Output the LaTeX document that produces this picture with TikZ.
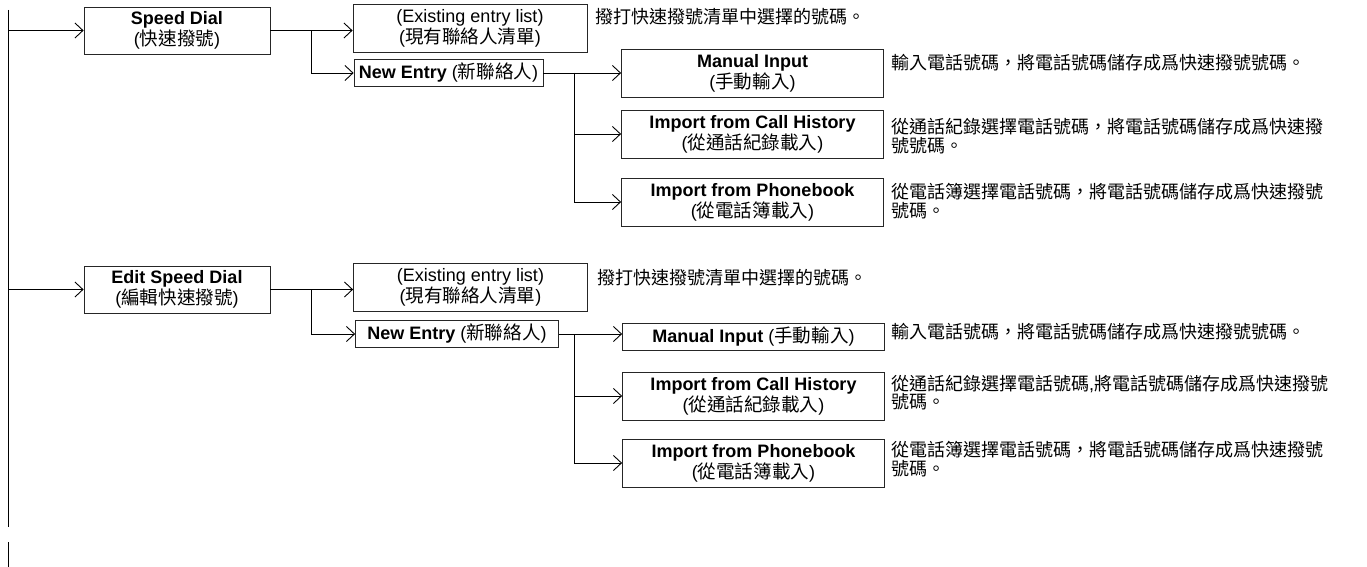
\documentclass[tikz,border=0pt]{standalone}
\usepackage{fontspec}
\setmainfont{Liberation Sans}
\newfontfamily\cjk[Scale=1.0]{Noto Sans CJK TC}
\newfontfamily\cjkbox[Scale=1.03]{Noto Sans CJK TC}
\usepackage{tikz}
\usetikzlibrary{arrows.meta,positioning}

\begin{document}
\begin{tikzpicture}[
    x=1pt, y=-1pt,
    box/.style={draw=black!85, line width=0.8pt, align=center, inner sep=1pt, font=\fontsize{18pt}{21pt}\selectfont},
    mainbox/.style={box, minimum width=186pt, minimum height=47pt},
    listbox/.style={box, minimum width=234pt, minimum height=48pt},
    entrybox/.style={box, minimum height=27pt},
    leafbox/.style={box, minimum width=262pt, minimum height=48pt},
    note/.style={anchor=west, align=left, inner sep=0pt, font=\fontsize{18pt}{18.5pt}\selectfont\cjk},
    arr/.style={-{Straight Barb[length=8pt,width=15pt]}, line width=0.9pt},
    trunk/.style={line width=0.9pt}
]
\useasboundingbox (0,0) rectangle (1367,567);

% left trunk
\coordinate (t0) at (8,10);
\coordinate (t1) at (8,527);
\coordinate (t2) at (8,542);
\coordinate (t3) at (8,567);

% speed dial
\node[mainbox] (speed) at (177,30.5) {\bfseries Speed Dial\\({\cjkbox 快速撥號})};
\node[listbox] (exist1) at (470,28) {(Existing entry list)\\({\cjkbox 現有聯絡人清單})};
\node[entrybox, minimum width=189pt] (new1) at (448.5,73) {\bfseries New Entry \mdseries({\cjkbox 新聯絡人})};
\node[leafbox] (manual1) at (752.5,73) {\bfseries Manual Input\\\mdseries({\cjkbox 手動輸入})};
\node[leafbox] (callh1) at (752.5,134) {\bfseries Import from Call History\\\mdseries({\cjkbox 從通話紀錄載入})};
\node[leafbox] (phone1) at (752.5,202) {\bfseries Import from Phonebook\\\mdseries({\cjkbox 從電話簿載入})};
\coordinate (j1) at (311,0);
\coordinate (j2) at (574,0);

\node[note] (dexist1) at (595,17) {撥打快速撥號清單中選擇的號碼。};
\node[note] (dmanual1) at (891,63) {輸入電話號碼，將電話號碼儲存成爲快速撥號號碼。};
\node[note] (dcallh1) at (891,136) {從通話紀錄選擇電話號碼，將電話號碼儲存成爲快速撥\\號號碼。};
\node[note] (dphone1) at (891,201) {從電話簿選擇電話號碼，將電話號碼儲存成爲快速撥號\\號碼。};

% edit speed dial
\node[mainbox] (edit) at (177,289.5) {\bfseries Edit Speed Dial\\({\cjkbox 編輯快速撥號})};
\node[listbox] (exist2) at (470.5,287) {(Existing entry list)\\({\cjkbox 現有聯絡人清單})};
\node[entrybox, minimum width=203pt] (new2) at (457,334) {\bfseries New Entry \mdseries({\cjkbox 新聯絡人})};
\node[leafbox, minimum height=27pt] (manual2) at (753.5,336.5) {\bfseries Manual Input \mdseries({\cjkbox 手動輸入})};
\node[leafbox] (callh2) at (753.5,396) {\bfseries Import from Call History\\\mdseries({\cjkbox 從通話紀錄載入})};
\node[leafbox] (phone2) at (753.5,463) {\bfseries Import from Phonebook\\\mdseries({\cjkbox 從電話簿載入})};
\coordinate (j3) at (311,0);
\coordinate (j4) at (574,0);

\node[note] (dexist2) at (597,278) {撥打快速撥號清單中選擇的號碼。};
\node[note] (dmanual2) at (891,332) {輸入電話號碼，將電話號碼儲存成爲快速撥號號碼。};
\node[note] (dcallh2) at (891,392.5) {從通話紀錄選擇電話號碼{\rmfamily\fontsize{18pt}{18pt}\selectfont,}將電話號碼儲存成爲快速撥號\\號碼。};
\node[note] (dphone2) at (891,459) {從電話簿選擇電話號碼，將電話號碼儲存成爲快速撥號\\號碼。};

\draw[trunk] (t0) -- (t1);
\draw[trunk] (t2) -- (t3);
\draw[arr] (t0 |- speed.west) -- (speed.west);
\draw[arr] (t0 |- edit.west) -- (edit.west);

\draw[arr] (speed.east) -- (exist1.west |- speed.east);
\draw[arr] (j1 |- speed.east) |- (new1.west);
\draw[arr] (new1.east) -- (manual1.west);
\draw[arr] (j2 |- new1.east) |- (callh1.west);
\draw[arr] (j2 |- new1.east) |- (phone1.west);

\draw[arr] (edit.east) -- (exist2.west |- edit.east);
\draw[arr] (j3 |- edit.east) |- (new2.west);
\draw[arr] (new2.east) -- (manual2.west |- new2.east);
\draw[arr] (j4 |- new2.east) |- (callh2.west);
\draw[arr] (j4 |- new2.east) |- (phone2.west);
\end{tikzpicture}
\end{document}
